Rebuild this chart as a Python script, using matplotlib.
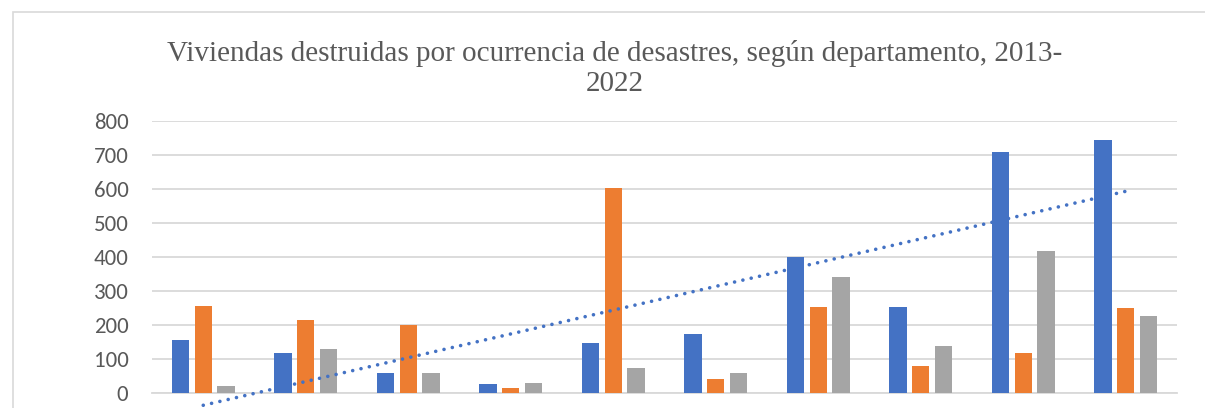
import numpy as np
import matplotlib
matplotlib.use("Agg")
import matplotlib.pyplot as plt
from matplotlib.patches import Rectangle

# datos (eje x y leyenda quedan fuera del recorte)
departamentos = ["D1", "D2", "D3", "D4", "D5", "D6", "D7", "D8", "D9", "D10"]
serie1 = [157, 118, 58, 26, 148, 174, 400, 252, 709, 744]
serie2 = [255, 215, 200, 15, 604, 41, 252, 79, 119, 250]
serie3 = [21, 130, 58, 28, 74, 58, 340, 139, 418, 226]
yticks = [0, 100, 200, 300, 400, 500, 600, 700, 800]

azul = "#4472C4"
naranja = "#ED7D31"
gris = "#A5A5A5"
texto = "#595959"

fig = plt.figure(figsize=(12.05, 4.08), dpi=100)

# borde del area del grafico
fig.patches.append(Rectangle((13 / 1205, -0.5), 1.2, (408 - 12) / 408 + 0.5,
                             transform=fig.transFigure, fill=False,
                             edgecolor="#D9D9D9", linewidth=1.2))

ax = fig.add_axes([152 / 1205, (408 - 393) / 408, (1177 - 152) / 1205, 272 / 408])

x = np.arange(1, len(departamentos) + 1)
ancho = 0.17
sep = 0.222
ax.bar(x - sep, serie1, ancho, color=azul, zorder=3)
ax.bar(x, serie2, ancho, color=naranja, zorder=3)
ax.bar(x + sep, serie3, ancho, color=gris, zorder=3)

# linea de tendencia lineal de la primera serie
m, b = np.polyfit(x, serie1, 1)
ax.plot(x, m * x + b, color=azul, linewidth=2.6, linestyle=(0, (0.01, 2.35)),
        dash_capstyle="round", clip_on=False, zorder=4)

ax.set_xlim(0.5, len(departamentos) + 0.5)
ax.set_ylim(0, 800)
ax.set_yticks(yticks)
# las etiquetas de departamento quedan fuera del recorte de la imagen
ax.set_xticks(x)
ax.set_xticklabels([])
ax.grid(axis="y", color="#D9D9D9", linewidth=1.3, zorder=0)
for s in ["top", "right", "left"]:
    ax.spines[s].set_visible(False)
ax.spines["bottom"].set_color("#D9D9D9")
ax.spines["bottom"].set_linewidth(1.3)
ax.tick_params(axis="both", length=0, colors=texto, labelsize=16.5, pad=17)
for lab in ax.get_yticklabels():
    lab.set_family(["Carlito", "Liberation Sans", "DejaVu Sans"])

fig.text(0.51, (408 - 91) / 408,
         "Viviendas destruidas por ocurrencia de desastres, según departamento, 2013-\n2022",
         ha="center", va="baseline", fontsize=21, color=texto,
         family="Liberation Serif", linespacing=1.2)

fig.savefig("out.png", dpi=100)
